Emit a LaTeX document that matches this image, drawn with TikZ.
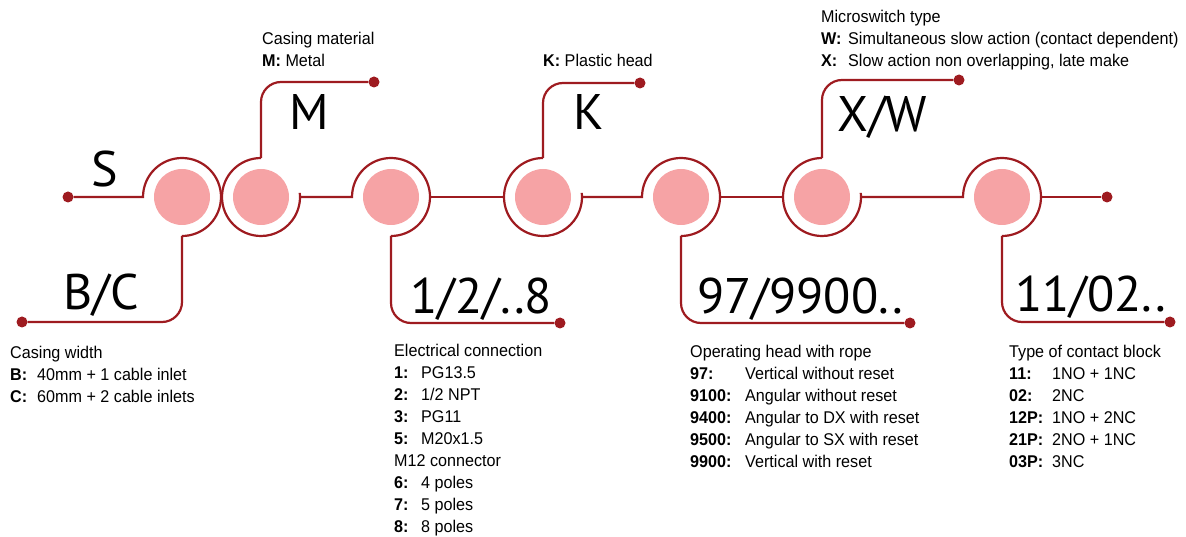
\documentclass[tikz,border=0pt]{standalone}
\usepackage{fontspec}
\usetikzlibrary{positioning, calc}
\newfontfamily\infofont[FakeStretch=0.95]{Liberation Sans}
\newfontfamily\codefont{PT Sans}
\definecolor{trRed}{HTML}{9E1B20}
\definecolor{trPink}{HTML}{F6A3A5}
\tikzset{
  track/.style   = {trRed, line width=2.2pt},
  branch/.style  = {track, rounded corners=20pt},
  disk/.style    = {circle, fill=trPink, minimum size=56pt, inner sep=0pt, outer sep=11pt},
  enddot/.style  = {circle, fill=trRed, minimum size=11pt, inner sep=0pt},
  code/.style    = {font=\codefont\fontsize{50}{50}\selectfont, inner sep=0pt, anchor=base west},
  info/.style    = {font=\infofont\fontsize{17}{22}\selectfont, inner sep=0pt, anchor=base west},
}
\newcommand{\hd}[1]{\multicolumn{2}{@{}l@{}}{#1}}

\begin{document}
\begin{tikzpicture}[x=1pt,y=-1pt]
  \useasboundingbox (0,0) rectangle (1186,537);
  % code positions
  \foreach \n/\cx in {1/182, 2/261, 3/391, 4/543, 5/681, 6/822, 7/1002}
    \node[disk] (c\n) at (\cx,197) {};
  % end dots
  \node[enddot] (dS)  at (68,197)   {};
  \node[enddot] (dB)  at (22,322)   {};
  \node[enddot] (dM)  at (374,82)   {};
  \node[enddot] (d12) at (560,323)  {};
  \node[enddot] (dK)  at (640,83)   {};
  \node[enddot] (d97) at (910,323)  {};
  \node[enddot] (dXW) at (959,80)   {};
  \node[enddot] (dR)  at (1107,197) {};
  \node[enddot] (d11) at (1170,322) {};
  % rings entered from the left
  \foreach \n in {1,3,5,7}
    \draw[track] (c\n.174) arc[start angle=174, end angle=-90, radius=39pt];
  % rings left from the top
  \foreach \n in {2,4,6}
    \draw[track] (c\n.90) arc[start angle=90, end angle=366, radius=39pt] -- (c\n.east);
  % main line
  \draw[track] (dS) -- (c1.west) -- (c1.174);
  \draw[track] (c2.east) -- (c3.west) -- (c3.174);
  \draw[track] (c3.east) -- (c4.west);
  \draw[track] (c4.east) -- (c5.west) -- (c5.174);
  \draw[track] (c5.east) -- (c6.west);
  \draw[track] (c6.east) -- (c7.west) -- (c7.174);
  \draw[track] (c7.east) -- (dR);
  % branches
  \draw[branch] (c1.south) |- (dB);
  \draw[branch] (c2.north) |- (dM);
  \draw[branch] (c3.south) |- (d12);
  \draw[branch] (c4.north) |- (dK);
  \draw[branch] (c5.south) |- (d97);
  \draw[branch] (c6.north) |- (dXW);
  \draw[branch] (c7.south) |- (d11);
  % codes
  \node[code] (lS)  at (91,187)   {S};
  \node[code] (lBC) at (63,310)   {B/C};
  \node[code] (lM)  at (289,130)  {M};
  \node[code] (l12) at (410,313)  {1/2/..8};
  \node[code] (lK)  at (573,130)  {K};
  \node[code] (l97) at (697,313)  {97/9900..};
  \node[code] (lXW) at (837,132)  {X/W};
  \node[code] (l11) at (1015,312) {11/02..};
  % descriptions
  \node[info] (tMat) at (262,45) {\begin{tabular}[t]{@{}l@{}}
    Casing material\\ \textbf{M:} Metal\end{tabular}};
  \node[info] (tK) at (543,67) {\textbf{K:} Plastic head};
  \node[info] (tSw) at (821,23) {\begin{tabular}[t]{@{}p{27pt}@{}l@{}}
    \hd{Microswitch type}\\
    \textbf{W:} & Simultaneous slow action (contact dependent)\\
    \textbf{X:} & Slow action non overlapping, late make\end{tabular}};
  \node[info] (tWid) at (10,358) {\begin{tabular}[t]{@{}p{27pt}@{}l@{}}
    \hd{Casing width}\\
    \textbf{B:} & 40mm + 1 cable inlet\\
    \textbf{C:} & 60mm + 2 cable inlets\end{tabular}};
  \node[info] (tEl) at (394,356) {\begin{tabular}[t]{@{}p{27pt}@{}l@{}}
    \hd{Electrical connection}\\
    \textbf{1:} & PG13.5\\
    \textbf{2:} & 1/2 NPT\\
    \textbf{3:} & PG11\\
    \textbf{5:} & M20x1.5\\
    \hd{M12 connector}\\
    \textbf{6:} & 4 poles\\
    \textbf{7:} & 5 poles\\
    \textbf{8:} & 8 poles\end{tabular}};
  \node[info] (tHead) at (690,357) {\begin{tabular}[t]{@{}p{55pt}@{}l@{}}
    \hd{Operating head with rope}\\
    \textbf{97:} & Vertical without reset\\
    \textbf{9100:} & Angular without reset\\
    \textbf{9400:} & Angular to DX with reset\\
    \textbf{9500:} & Angular to SX with reset\\
    \textbf{9900:} & Vertical with reset\end{tabular}};
  \node[info] (tCon) at (1009,357) {\begin{tabular}[t]{@{}p{43pt}@{}l@{}}
    \hd{Type of contact block}\\
    \textbf{11:} & 1NO + 1NC\\
    \textbf{02:} & 2NC\\
    \textbf{12P:} & 1NO + 2NC\\
    \textbf{21P:} & 2NO + 1NC\\
    \textbf{03P:} & 3NC\end{tabular}};
\end{tikzpicture}
\end{document}
